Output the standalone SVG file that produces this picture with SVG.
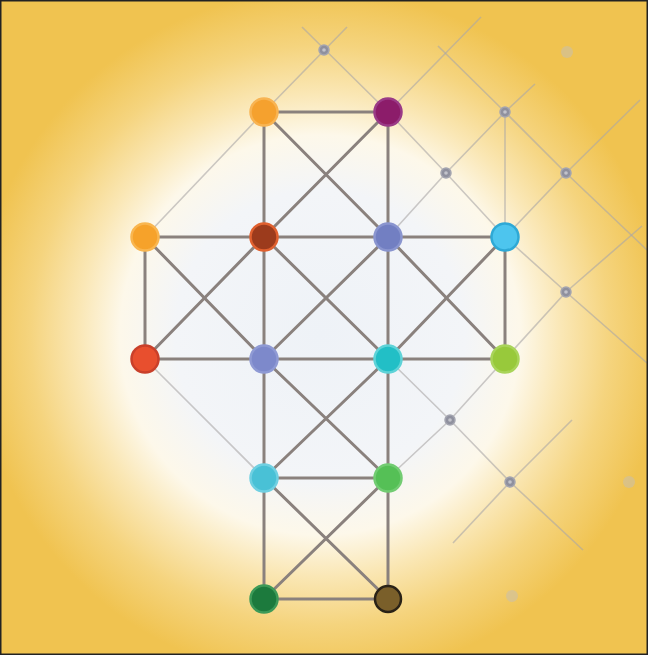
<svg xmlns="http://www.w3.org/2000/svg" width="648" height="655" viewBox="0 0 648 655">
<defs>
<radialGradient id="bg" cx="320" cy="335" r="345" gradientUnits="userSpaceOnUse">
<stop offset="0" stop-color="#eef2f7"/>
<stop offset="0.42" stop-color="#f3f5f8"/>
<stop offset="0.58" stop-color="#fdf8ea"/>
<stop offset="0.7" stop-color="#fae7b5"/>
<stop offset="0.84" stop-color="#f5d47e"/>
<stop offset="1" stop-color="#f0c350"/>
</radialGradient>
<filter id="soft" x="-30%" y="-30%" width="160%" height="160%"><feGaussianBlur stdDeviation="0.7"/></filter>
</defs>
<style>
.light{fill:none;stroke:#aaa6a6;stroke-opacity:0.6;stroke-width:1.6;stroke-linejoin:round}
.dark{fill:none;stroke:#8a817d;stroke-width:3;stroke-linecap:round}
.node{stroke-width:2.5;filter:url(#soft)}
.dot{fill:#8f909e;stroke:#a4a5b0;stroke-width:1.5}
.dotc{fill:#c2c3cb}
.faint{fill:#c9c0ae;fill-opacity:0.55}
</style>
<rect x="0" y="0" width="648" height="655" fill="url(#bg)"/>
<g id="connectors">
<g id="grid-lines">
<polyline class="light" points="145,237 264,112 347,27"/>
<polyline class="light" points="302,27 388,112 446,173 505,237 566,292 647,363"/>
<polyline class="light" points="388,112 481,17"/>
<polyline class="light" points="438,46 505,112 566,173 647,250"/>
<polyline class="light" points="388,237 446,173 505,112 535,84"/>
<polyline class="light" points="505,112 505,237"/>
<polyline class="light" points="505,237 566,173 640,100"/>
<polyline class="light" points="505,359 566,292 642,226"/>
<polyline class="light" points="145,359 264,478"/>
<polyline class="light" points="388,359 450,420 510,482 583,550"/>
<polyline class="light" points="388,478 450,420 505,359"/>
<polyline class="light" points="453,543 510,482 572,420"/>
</g>
<g id="edges">
<line class="dark" x1="264" y1="112" x2="388" y2="112"/>
<line class="dark" x1="264" y1="112" x2="264" y2="599"/>
<line class="dark" x1="388" y1="112" x2="388" y2="599"/>
<line class="dark" x1="264" y1="112" x2="388" y2="237"/>
<line class="dark" x1="388" y1="112" x2="264" y2="237"/>
<line class="dark" x1="145" y1="237" x2="505" y2="237"/>
<line class="dark" x1="145" y1="359" x2="505" y2="359"/>
<line class="dark" x1="145" y1="237" x2="145" y2="359"/>
<line class="dark" x1="505" y1="237" x2="505" y2="359"/>
<line class="dark" x1="145" y1="237" x2="264" y2="359"/>
<line class="dark" x1="264" y1="237" x2="145" y2="359"/>
<line class="dark" x1="264" y1="237" x2="388" y2="359"/>
<line class="dark" x1="388" y1="237" x2="264" y2="359"/>
<line class="dark" x1="388" y1="237" x2="505" y2="359"/>
<line class="dark" x1="505" y1="237" x2="388" y2="359"/>
<line class="dark" x1="264" y1="359" x2="388" y2="478"/>
<line class="dark" x1="388" y1="359" x2="264" y2="478"/>
<line class="dark" x1="264" y1="478" x2="388" y2="478"/>
<line class="dark" x1="264" y1="478" x2="388" y2="599"/>
<line class="dark" x1="388" y1="478" x2="264" y2="599"/>
<line class="dark" x1="264" y1="599" x2="388" y2="599"/>
</g>
</g>
<g id="grid-dots">
<g id="d1"><circle class="dot" cx="324" cy="50" r="5"/><circle class="dotc" cx="324" cy="50" r="1.8"/></g>
<g id="d2"><circle class="dot" cx="446" cy="173" r="5"/><circle class="dotc" cx="446" cy="173" r="1.8"/></g>
<g id="d3"><circle class="dot" cx="505" cy="112" r="5"/><circle class="dotc" cx="505" cy="112" r="1.8"/></g>
<g id="d4"><circle class="dot" cx="566" cy="173" r="5"/><circle class="dotc" cx="566" cy="173" r="1.8"/></g>
<g id="d5"><circle class="dot" cx="566" cy="292" r="5"/><circle class="dotc" cx="566" cy="292" r="1.8"/></g>
<g id="d6"><circle class="dot" cx="450" cy="420" r="5"/><circle class="dotc" cx="450" cy="420" r="1.8"/></g>
<g id="d7"><circle class="dot" cx="510" cy="482" r="5"/><circle class="dotc" cx="510" cy="482" r="1.8"/></g>
<g id="f1"><circle class="faint" cx="567" cy="52" r="6"/></g>
<g id="f2"><circle class="faint" cx="629" cy="482" r="6"/></g>
<g id="f3"><circle class="faint" cx="512" cy="596" r="6"/></g>
</g>
<g id="n-orange-top"><circle class="node" cx="264" cy="112" r="13.5" fill="#f5a12f" stroke="#f8b452"/></g>
<g id="n-purple"><circle class="node" cx="388" cy="112" r="13.5" fill="#8c1a6a" stroke="#9a3a86"/></g>
<g id="n-orange-left"><circle class="node" cx="145" cy="237" r="13.5" fill="#f6a22c" stroke="#f9b650"/></g>
<g id="n-rust"><circle class="node" cx="264" cy="237" r="13.5" fill="#9c3a1c" stroke="#e0602e"/></g>
<g id="n-lavender"><circle class="node" cx="388" cy="237" r="13.5" fill="#727fc2" stroke="#8a95cf"/></g>
<g id="n-cyan"><circle class="node" cx="505" cy="237" r="13.5" fill="#4dc5ee" stroke="#2fa9d6"/></g>
<g id="n-red"><circle class="node" cx="145" cy="359" r="13.5" fill="#e8502e" stroke="#c9402a"/></g>
<g id="n-blue"><circle class="node" cx="264" cy="359" r="13.5" fill="#7d89cb" stroke="#8f9ad4"/></g>
<g id="n-teal"><circle class="node" cx="388" cy="359" r="13.5" fill="#22bfc6" stroke="#5fd3d8"/></g>
<g id="n-lime"><circle class="node" cx="505" cy="359" r="13.5" fill="#98c93a" stroke="#a9d45a"/></g>
<g id="n-cyan-low"><circle class="node" cx="264" cy="478" r="13.5" fill="#4ac1d6" stroke="#6fd0e2"/></g>
<g id="n-green"><circle class="node" cx="388" cy="478" r="13.5" fill="#55c057" stroke="#72cc72"/></g>
<g id="n-darkgreen"><circle class="node" cx="264" cy="599" r="13.5" fill="#1b7a3c" stroke="#3d9a58"/></g>
<g id="n-olive"><circle class="node" cx="388" cy="599" r="13" fill="#7a5e2c" stroke="#2a2417" stroke-width="3"/></g>
<rect x="0.75" y="0.75" width="646.5" height="653.5" fill="none" stroke="#222" stroke-width="1.5"/>
</svg>
